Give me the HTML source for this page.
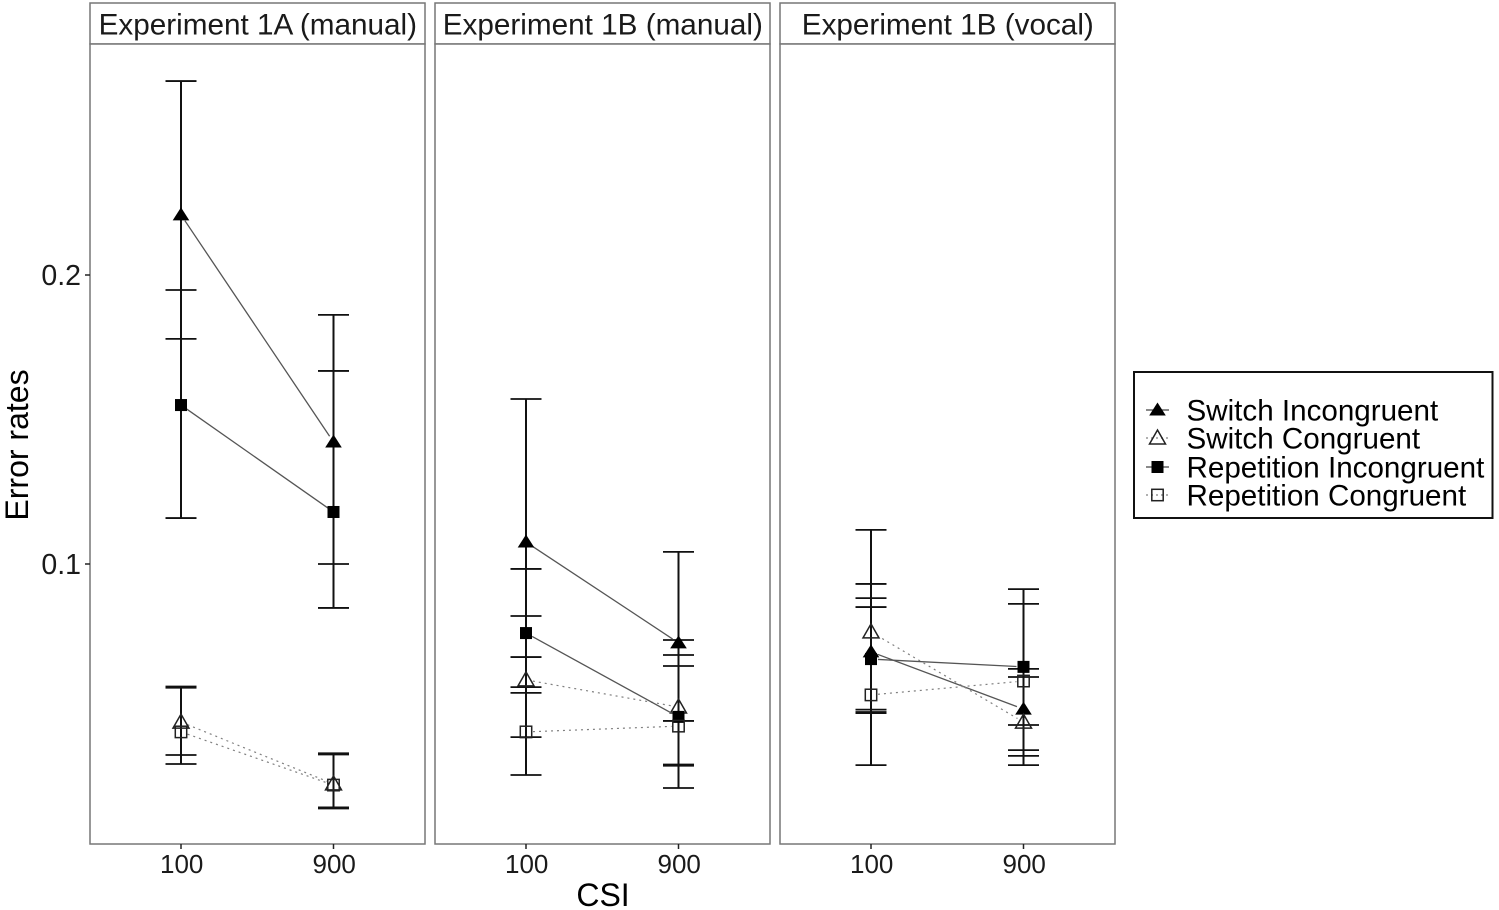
<!DOCTYPE html>
<html>
<head>
<meta charset="utf-8">
<title>Error rates by CSI</title>
<style>
html,body{margin:0;padding:0;background:#fff;}
svg{display:block;filter:blur(0.35px);}
text{font-family:"Liberation Sans",sans-serif;}
</style>
</head>
<body>
<svg id="chart" xmlns="http://www.w3.org/2000/svg" width="1499" height="910" viewBox="0 0 1499 910"></svg>
<script>
const panelTitles = ["Experiment 1A (manual)", "Experiment 1B (manual)", "Experiment 1B (vocal)"];
const csiLabels = ["100", "900"];
const yTicks = [0.1, 0.2];
const yTickLabels = ["0.1", "0.2"];
const seriesNames = ["Switch Incongruent", "Switch Congruent", "Repetition Incongruent", "Repetition Congruent"];

// per panel -> [csi100, csi900]
const switchIncongruentMean  = [[0.2208, 0.1422], [0.1076, 0.0727], [0.0696, 0.0498]];
const switchIncongruentUpper = [[0.2671, 0.1862], [0.1571, 0.1042], [0.0931, 0.0637]];
const switchIncongruentLower = [[0.1779, 0.1000], [0.0574, 0.0457], [0.0304, 0.0304]];

const switchCongruentMean  = [[0.0453, 0.0239], [0.0599, 0.0505], [0.0765, 0.0453]];
const switchCongruentUpper = [[0.0576, 0.0345], [0.0820, 0.0737], [0.1118, 0.0609]];
const switchCongruentLower = [[0.0308, 0.0158], [0.0270, 0.0306], [0.0484, 0.0443]];

const repetitionIncongruentMean  = [[0.1550, 0.1180], [0.0761, 0.0471], [0.0671, 0.0644]];
const repetitionIncongruentUpper = [[0.1948, 0.1668], [0.0983, 0.0685], [0.0882, 0.0913]];
const repetitionIncongruentLower = [[0.1159, 0.0848], [0.0554, 0.0302], [0.0488, 0.0356]];

const repetitionCongruentMean  = [[0.0419, 0.0235], [0.0419, 0.0439], [0.0547, 0.0595]];
const repetitionCongruentUpper = [[0.0572, 0.0341], [0.0678, 0.0647], [0.0851, 0.0862]];
const repetitionCongruentLower = [[0.0339, 0.0154], [0.0401, 0.0225], [0.0496, 0.0336]];

const svg = document.getElementById('chart');
const NS = 'http://www.w3.org/2000/svg';

const panelLeft = [90, 435, 780];
const panelWidth = 335;
const panelTop = 44;
const panelBottom = 844;
const stripTop = 3;

function yScale(v) { return 564 - (v - 0.1) * 2890; }
function xScale(panel, i) { return panelLeft[panel] + 91 + i * 152.5; }

function add(tag, attrs, text) {
  const el = document.createElementNS(NS, tag);
  for (const k in attrs) el.setAttribute(k, attrs[k]);
  if (text !== undefined) el.textContent = text;
  svg.appendChild(el);
  return el;
}

function drawMarker(kind, cx, cy, name) {
  let el;
  if (kind === 0) {
    el = add('path', { d: 'M' + cx + ' ' + (cy - 7.5) + 'L' + (cx + 8.3) + ' ' + (cy + 5.5) + 'L' + (cx - 8.3) + ' ' + (cy + 5.5) + 'Z', fill: '#000' });
  } else if (kind === 1) {
    el = add('path', { d: 'M' + cx + ' ' + (cy - 8) + 'L' + (cx + 8) + ' ' + (cy + 6) + 'L' + (cx - 8) + ' ' + (cy + 6) + 'Z', fill: 'none', stroke: '#222', 'stroke-width': 1.5 });
  } else if (kind === 2) {
    el = add('rect', { x: cx - 6, y: cy - 6, width: 12, height: 12, fill: '#000' });
  } else {
    el = add('rect', { x: cx - 5.7, y: cy - 5.7, width: 11.4, height: 11.4, fill: 'none', stroke: '#222', 'stroke-width': 1.5 });
  }
  
  
}

const means = [switchIncongruentMean, switchCongruentMean, repetitionIncongruentMean, repetitionCongruentMean];
const uppers = [switchIncongruentUpper, switchCongruentUpper, repetitionIncongruentUpper, repetitionCongruentUpper];
const lowers = [switchIncongruentLower, switchCongruentLower, repetitionIncongruentLower, repetitionCongruentLower];
const slugs = ['switch-incongruent', 'switch-congruent', 'repetition-incongruent', 'repetition-congruent'];

panelTitles.forEach(function (title, p) {
  const left = panelLeft[p];
  const strip = add('rect', { x: left, y: stripTop, width: panelWidth, height: panelTop - stripTop, fill: '#fff', stroke: '#777', 'stroke-width': 1.5 });
  
  

  const stripText = add('text', { x: left + panelWidth / 2 + 0.3, y: 34.5, 'text-anchor': 'middle', 'font-size': 29.7, fill: '#1a1a1a' }, title);
  
  

  const box = add('rect', { x: left, y: panelTop, width: panelWidth, height: panelBottom - panelTop, fill: '#fff', stroke: '#777', 'stroke-width': 1.5 });
  
  

  csiLabels.forEach(function (lab, i) {
    const x = xScale(p, i);
    const tick = add('line', { x1: x, x2: x, y1: panelBottom, y2: panelBottom + 5, stroke: '#222', 'stroke-width': 1.5 });
    
    
    const tl = add('text', { x: x + 0.7, y: 873, 'text-anchor': 'middle', 'font-size': 26, fill: '#1a1a1a' }, lab);
    
    
  });

  // error bars
  means.forEach(function (m, s) {
    csiLabels.forEach(function (lab, i) {
      const x = xScale(p, i);
      const yU = yScale(uppers[s][p][i]);
      const yL = yScale(lowers[s][p][i]);
      const stem = add('line', { x1: x, x2: x, y1: yU, y2: yL, stroke: '#111', 'stroke-width': 2 });
      
      
      const capU = add('line', { x1: x - 15.5, x2: x + 15.5, y1: yU, y2: yU, stroke: '#111', 'stroke-width': 1.8 });
      
      
      const capL = add('line', { x1: x - 15.5, x2: x + 15.5, y1: yL, y2: yL, stroke: '#111', 'stroke-width': 1.8 });
      
      
    });
  });

  // connecting lines and markers
  means.forEach(function (m, s) {
    const x0 = xScale(p, 0), x1 = xScale(p, 1);
    const y0 = yScale(m[p][0]), y1 = yScale(m[p][1]);
    const len = Math.hypot(x1 - x0, y1 - y0);
    const trim = 7;
    const ux = (x1 - x0) / len, uy = (y1 - y0) / len;
    const dotted = (s === 1 || s === 3);
    const ln = add('line', {
      x1: x0 + ux * trim, y1: y0 + uy * trim, x2: x1 - ux * trim, y2: y1 - uy * trim,
      stroke: dotted ? '#808080' : '#555', 'stroke-width': dotted ? 1.2 : 1.3,
      'stroke-dasharray': dotted ? '2 4' : 'none'
    });
    
    
    drawMarker(s, x0, y0, 'point-' + slugs[s] + '-100');
    drawMarker(s, x1, y1, 'point-' + slugs[s] + '-900');
  });
});

// y axis ticks
yTicks.forEach(function (v, i) {
  const y = yScale(v);
  const t = add('line', { x1: 85, x2: 90, y1: y, y2: y, stroke: '#222', 'stroke-width': 1.5 });
  
  
  const l = add('text', { x: 81, y: y + 10, 'text-anchor': 'end', 'font-size': 28.5, fill: '#1a1a1a' }, yTickLabels[i]);
  
  
});

const xTitle = add('text', { x: 603, y: 906, 'text-anchor': 'middle', 'font-size': 32, fill: '#000' }, 'CSI');



const yTitle = add('text', { x: 0, y: 0, transform: 'translate(28 445) rotate(-90)', 'text-anchor': 'middle', 'font-size': 32, fill: '#000' }, 'Error rates');



// legend
const legendBox = add('rect', { x: 1134, y: 372, width: 358.5, height: 146, fill: '#fff', stroke: '#111', 'stroke-width': 2 });



const legendRowY = [410, 438, 467, 495];
seriesNames.forEach(function (name, s) {
  const y = legendRowY[s];
  const dotted = (s === 1 || s === 3);
  const key = add('line', { x1: 1146, x2: 1169, y1: y, y2: y, stroke: dotted ? '#808080' : '#444', 'stroke-width': 1.2, 'stroke-dasharray': dotted ? '2 3' : 'none' });
  
  
  drawMarker(s, 1157.5, y, 'legend-marker-' + slugs[s]);
  const label = add('text', { x: 1186.5, y: y + 10.5, 'font-size': 29.6, fill: '#000' }, name);
  
  
});
</script>
</body>
</html>
